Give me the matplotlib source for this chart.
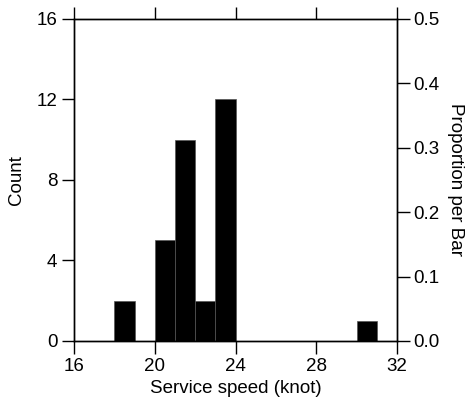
import matplotlib.pyplot as plt
from matplotlib.ticker import FormatStrFormatter

plt.rcParams['font.family'] = ['Liberation Sans', 'DejaVu Sans']

# Histogram bins (left edges, width 1 knot) and counts
bin_left = [18, 19, 20, 21, 22, 23, 30]
counts = [2, 0, 5, 10, 2, 12, 1]
total = sum(counts)

x_ticks = [16, 20, 24, 28, 32]
y_ticks = [0, 4, 8, 12, 16]
prop_ticks = [0.0, 0.1, 0.2, 0.3, 0.4, 0.5]

fig = plt.figure(figsize=(4.71, 4.03), dpi=100)
ax = fig.add_axes([0.157, 0.154, 0.686, 0.799])

ax.bar(bin_left, counts, width=1, align='edge', color='black',
       edgecolor='#555555', linewidth=0.5)

ax.set_xlim(16, 32)
ax.set_ylim(0, 16)
ax.set_xticks(x_ticks)
ax.set_yticks(y_ticks)
ax.tick_params(direction='out', length=9, width=1, labelsize=13.5, pad=3,
               top=True, labeltop=False)
ax.set_xlabel('Service speed (knot)', fontsize=13.5, labelpad=4)
ax.set_ylabel('Count', fontsize=13.5, labelpad=8)

# Right axis: proportion per bar
ax2 = ax.twinx()
ax2.set_ylim(0, 16 / total)
ax2.set_yticks(prop_ticks)
ax2.yaxis.set_major_formatter(FormatStrFormatter('%.1f'))
ax2.tick_params(direction='out', length=9, width=1, labelsize=13.5, pad=3)
ax2.set_ylabel('Proportion per Bar', fontsize=13.5, rotation=270, labelpad=17)

for a in (ax, ax2):
    for s in a.spines.values():
        s.set_linewidth(1)

fig.savefig('out.png', dpi=100)
